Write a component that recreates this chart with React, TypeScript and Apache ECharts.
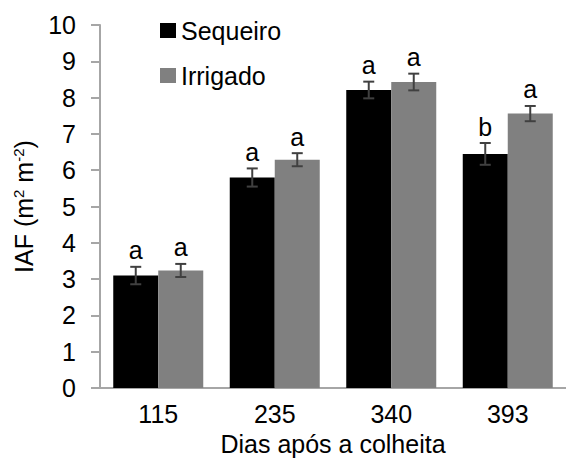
import React, { useEffect, useRef } from "react";
import * as echarts from "echarts";

const categories = ["115", "235", "340", "393"];
const sequeiro = [3.1, 5.8, 8.21, 6.45];
const irrigado = [3.24, 6.29, 8.43, 7.56];
const sequeiroErr = [0.24, 0.25, 0.23, 0.3];
const irrigadoErr = [0.18, 0.18, 0.23, 0.21];
const sequeiroLetters = ["a", "a", "a", "b"];
const irrigadoLetters = ["a", "a", "a", "a"];

const FONT = "Liberation Sans, Arial, sans-serif";
const FS = 25;
const BAR_W = 45;

function errSeries(name: string, vals: number[], errs: number[], letters: string[], offset: number) {
  return {
    type: "custom",
    name: name + "-err",
    data: vals.map((v, i) => [i, v, errs[i]]),
    z: 10,
    renderItem: (params: any, api: any) => {
      const i = api.value(0);
      const v = api.value(1);
      const e = api.value(2);
      const letter = letters[params.dataIndex];
      const top = api.coord([i, v + e]);
      const bot = api.coord([i, v - e]);
      const x = top[0] + offset;
      const cap = 5.5;
      const st = { stroke: "#404040", lineWidth: 2 };
      return {
        type: "group",
        children: [
          { type: "line", shape: { x1: x, y1: top[1], x2: x, y2: bot[1] }, style: st },
          { type: "line", shape: { x1: x - cap, y1: top[1], x2: x + cap, y2: top[1] }, style: st },
          { type: "line", shape: { x1: x - cap, y1: bot[1], x2: x + cap, y2: bot[1] }, style: st },
          {
            type: "text",
            x: x,
            y: top[1] - 4,
            style: {
              text: letter,
              fill: "#000",
              font: `${FS}px ${FONT}`,
              textAlign: "center",
              textVerticalAlign: "bottom",
            },
          },
        ],
      };
    },
  };
}

export default function App() {
  const ref = useRef<HTMLDivElement>(null);
  useEffect(() => {
    if (!ref.current) return;
    const chart = echarts.init(ref.current, undefined, { renderer: "svg" });
    chart.setOption({
      animation: false,
      textStyle: { fontFamily: FONT },
      grid: { left: 100, right: -9, top: 25, bottom: 64, containLabel: false },
      legend: {
        orient: "vertical",
        left: 155,
        top: 13,
        itemWidth: 16,
        itemHeight: 15,
        itemGap: 20,
        icon: "rect",
        textStyle: { fontSize: FS, color: "#000", fontFamily: FONT },
        data: ["Sequeiro", "Irrigado"],
      },
      xAxis: {
        type: "category",
        data: categories,
        name: "Dias após a colheita",
        nameLocation: "middle",
        nameGap: 36,
        nameTextStyle: { fontSize: FS, color: "#000", fontFamily: FONT },
        axisLine: { lineStyle: { color: "#a6a6a6", width: 2 } },
        axisTick: { show: false },
        axisLabel: { fontSize: FS, color: "#000", margin: 13, fontFamily: FONT },
      },
      yAxis: {
        type: "value",
        min: 0,
        max: 10,
        interval: 1,
        name: "IAF (m{sup|2} m{sup|-2})",
        nameLocation: "middle",
        nameGap: 64,
        nameRotate: 90,
        nameTextStyle: {
          fontSize: FS,
          color: "#000",
          fontFamily: FONT,
          rich: {
            sup: { fontSize: 15, verticalAlign: "top", lineHeight: 25, color: "#000", fontFamily: FONT },
          },
        },
        axisLine: { show: true, lineStyle: { color: "#a6a6a6", width: 2 } },
        axisTick: { show: true, length: 9, lineStyle: { color: "#a6a6a6", width: 2 } },
        splitLine: { show: false },
        axisLabel: { fontSize: FS, color: "#000", margin: 24, fontFamily: FONT },
      },
      series: [
        {
          type: "bar",
          name: "Sequeiro",
          data: sequeiro,
          barWidth: BAR_W,
          barGap: "0%",
          itemStyle: { color: "#000000" },
        },
        {
          type: "bar",
          name: "Irrigado",
          data: irrigado,
          barWidth: BAR_W,
          barGap: "0%",
          itemStyle: { color: "#808080" },
        },
        errSeries("Sequeiro", sequeiro, sequeiroErr, sequeiroLetters, -BAR_W / 2),
        errSeries("Irrigado", irrigado, irrigadoErr, irrigadoLetters, BAR_W / 2),
      ],
    });
    return () => chart.dispose();
  }, []);
  return (
    <div
      ref={ref}
      style={{ position: "fixed", left: 0, top: 0, width: 566, height: 461, background: "#fff" }}
    />
  );
}
